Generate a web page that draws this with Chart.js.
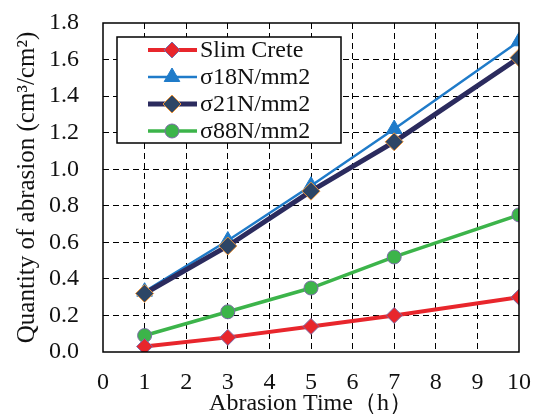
<!DOCTYPE html>
<html>
<head>
<meta charset="utf-8">
<script src="https://cdn.jsdelivr.net/npm/chart.js@4/dist/chart.umd.min.js"></script>
<style>
  html, body { margin: 0; padding: 0; background: #fff; }
  #wrap { width: 540px; height: 414px; position: relative; }
</style>
</head>
<body>
<div id="wrap"><canvas id="c"></canvas></div>
<script>
// abrasion chart
const hours = [1, 3, 5, 7, 10];
const slimCrete = [0.03, 0.08, 0.14, 0.20, 0.30];
const s18 = [0.33, 0.61, 0.91, 1.22, 1.70];
const s21 = [0.32, 0.58, 0.88, 1.15, 1.61];
const s88 = [0.09, 0.22, 0.35, 0.52, 0.75];
const seriesNames = ['Slim Crete', 'σ18N/mm2', 'σ21N/mm2', 'σ88N/mm2'];

const SERIF = "'Liberation Serif'";
const pts = (ys) => hours.map((h, i) => ({ x: h, y: ys[i] }));

const styles = [
  { line: '#e8262c', width: 4, point: 'rectRot', r: 8, fill: '#e8262c', edge: '#7b6aa6', order: 0 },
  { line: '#1f7bc9', width: 2.5, point: 'triangle', r: 9, fill: '#1f7bc9', edge: '#1f7bc9', order: 3 },
  { line: '#2b2b5e', width: 5, point: 'rectRot', r: 9, fill: '#2d4666', edge: '#e8933a', order: 2 },
  { line: '#3cb44a', width: 3.5, point: 'circle', r: 7, fill: '#3cb44a', edge: '#7b6aa6', order: 1 },
];
const values = [slimCrete, s18, s21, s88];

// frame + boxed legend drawn inside the plot
const framePlugin = {
  id: 'frame',
  afterDatasetsDraw(chart) {
    const { ctx, chartArea: a } = chart;
    ctx.save();
    ctx.strokeStyle = '#000';
    ctx.lineWidth = 1.5;
    ctx.strokeRect(a.left, a.top, a.right - a.left, a.bottom - a.top);

    const bx = a.left + 14, by = a.top + 14, bw = 224, bh = 106;
    ctx.fillStyle = '#fff';
    ctx.fillRect(bx, by, bw, bh);
    ctx.lineWidth = 1.5;
    ctx.strokeRect(bx, by, bw, bh);

    ctx.font = '24px ' + SERIF;
    ctx.textBaseline = 'middle';
    seriesNames.forEach((name, i) => {
      const st = styles[i];
      const y = by + 13 + i * 27;
      ctx.strokeStyle = st.line;
      ctx.lineWidth = st.width;
      ctx.beginPath();
      ctx.moveTo(bx + 31, y);
      ctx.lineTo(bx + 80, y);
      ctx.stroke();
      ctx.fillStyle = st.fill;
      ctx.strokeStyle = st.edge;
      ctx.lineWidth = 1;
      Chart.helpers.drawPoint(ctx, { pointStyle: st.point, radius: st.r, borderWidth: 1, rotation: 0 }, bx + 55, y);
      ctx.fillStyle = '#111';
      ctx.fillText(name, bx + 83, y + 1);
    });
    ctx.restore();
  }
};

new Chart(document.getElementById('c'), {
  type: 'line',
  data: {
    datasets: seriesNames.map((name, i) => ({
      label: name,
      data: pts(values[i]),
      borderColor: styles[i].line,
      borderWidth: styles[i].width,
      backgroundColor: styles[i].fill,
      pointStyle: styles[i].point,
      pointRadius: styles[i].r,
      pointBackgroundColor: styles[i].fill,
      pointBorderColor: styles[i].edge,
      pointBorderWidth: 1,
      tension: 0,
      fill: false,
      order: styles[i].order,
    })),
  },
  options: {
    responsive: true,
    maintainAspectRatio: false,
    animation: false,
    layout: { padding: { top: 23, right: 21, left: 0, bottom: 0 } },
    plugins: { legend: { display: false }, tooltip: { enabled: false } },
    scales: {
      x: {
        type: 'linear',
        min: 0, max: 10,
        afterFit: (s) => { s.height = 62; s.paddingLeft = 0; s.paddingRight = 0; },
        ticks: { stepSize: 1, color: '#111', padding: 16, font: { family: SERIF, size: 24 } },
        grid: {
          color: (c) => (c.tick && (c.tick.value === 0 || c.tick.value === 10)) ? 'rgba(0,0,0,0)' : '#000',
          lineWidth: 1,
          drawTicks: false,
        },
        border: { display: false, dash: [6, 4] },
        title: { display: true, text: 'Abrasion Time（h）', color: '#111', padding: { top: 0, bottom: -4 }, font: { family: SERIF, size: 24 } },
      },
      y: {
        min: 0, max: 1.8,
        afterFit: (s) => { s.width = 103; s.paddingTop = 0; s.paddingBottom = 0; },
        ticks: {
          stepSize: 0.2, color: '#111', padding: 24, font: { family: SERIF, size: 24 },
          callback: (v) => v.toFixed(1),
        },
        grid: {
          color: (c) => (c.tick && (c.tick.value === 0 || Math.abs(c.tick.value - 1.8) < 1e-6)) ? 'rgba(0,0,0,0)' : '#000',
          lineWidth: 1,
          drawTicks: false,
        },
        border: { display: false, dash: [6, 4] },
        title: { display: true, text: 'Quantity of abrasion (cm³/cm²)', color: '#111', padding: { top: 12, bottom: 0 }, font: { family: SERIF, size: 25 } },
      },
    },
  },
  plugins: [framePlugin],
});
</script>
</body>
</html>
